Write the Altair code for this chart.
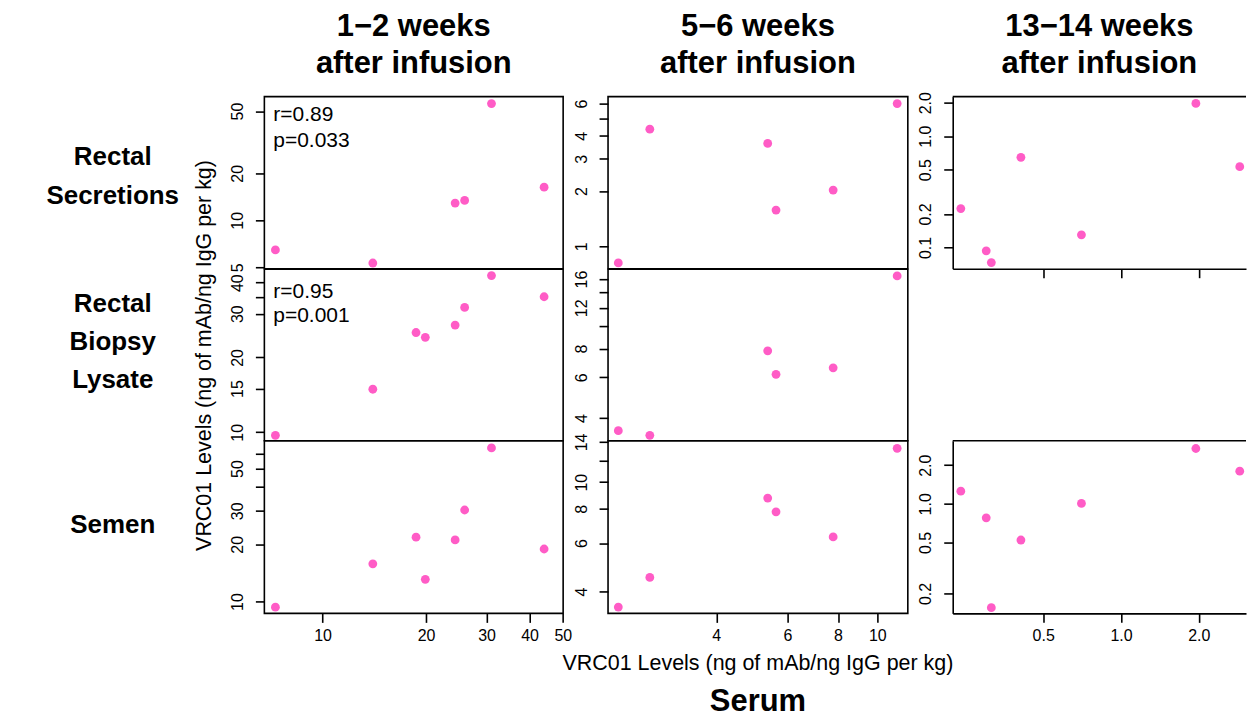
import altair as alt
import pandas as pd

FONT = "Liberation Sans"
PINK = "#FF5CC6"
BLACK = "#000000"

# ---------------- text ----------------
col_titles = ["1\u22122 weeks\nafter infusion", "5\u22126 weeks\nafter infusion", "13\u221214 weeks\nafter infusion"]
row_labels = ["Rectal\nSecretions", "Rectal\nBiopsy\nLysate", "Semen"]
axis_title_text = "VRC01 Levels (ng of mAb/ng IgG per kg)"
serum_label = "Serum"
stats_secretions = "r=0.89\np=0.033"
stats_biopsy = "r=0.95\np=0.001"

# ---------------- data (serum x, tissue y) ----------------
serum_1_2 = [7.29, 14.0, 18.7, 19.9, 24.3, 25.9, 31.0, 44.1]
serum_1_2_secretions = [7.29, 14.0, 24.3, 25.9, 31.0, 44.1]
secretions_1_2 = [6.46, 5.33, 12.9, 13.4, 55.9, 16.3]
biopsy_1_2 = [9.72, 14.9, 25.2, 24.1, 27.0, 31.8, 42.7, 35.1]
semen_1_2 = [9.35, 15.8, 21.8, 13.1, 21.1, 30.3, 64.2, 18.9]

serum_5_6 = [2.29, 2.74, 5.36, 5.62, 7.78, 11.2]
secretions_5_6 = [0.811, 4.35, 3.64, 1.576, 2.026, 6.0]
biopsy_5_6 = [3.53, 3.37, 7.82, 6.19, 6.60, 16.5]
semen_5_6 = [3.51, 4.50, 8.75, 7.80, 6.32, 13.28]

serum_13_14 = [0.240, 0.301, 0.315, 0.410, 0.703, 1.948, 2.88]
secretions_13_14 = [0.224, 0.0934, 0.0733, 0.647, 0.130, 1.974, 0.533]
semen_13_14 = [1.255, 0.778, 0.155, 0.522, 1.007, 2.70, 1.797]

# ---------------- axes: ticks & domains ----------------
x_ticks = [[10, 20, 30, 40, 50], [4, 6, 8, 10], [0.5, 1.0, 2.0]]
x_domains = [[6.77, 50.1], [2.16, 11.9], [0.2233, 3.045]]
x_formats = ["d", "d", ".1f"]

y_ticks = {
    (0, 0): [5, 10, 20, 50], (0, 1): [1, 2, 3, 4, 5, 6], (0, 2): [0.1, 0.2, 0.5, 1.0, 2.0],
    (1, 0): [10, 15, 20, 30, 35, 40], (1, 1): [4, 6, 8, 10, 12, 14, 16],
    (2, 0): [10, 20, 30, 40, 50, 60], (2, 1): [4, 6, 8, 10, 12, 14], (2, 2): [0.2, 0.5, 1.0, 2.0],
}
y_labeled = {
    (0, 0): [5, 10, 20, 50], (0, 1): [1, 2, 3, 4, 6], (0, 2): [0.1, 0.2, 0.5, 1.0, 2.0],
    (1, 0): [10, 15, 20, 30, 40], (1, 1): [4, 6, 8, 12, 16],
    (2, 0): [10, 20, 30, 50], (2, 1): [4, 6, 8, 10, 14], (2, 2): [0.2, 0.5, 1.0, 2.0],
}
y_domains = {
    (0, 0): [4.90, 61.9], (0, 1): [0.754, 6.55], (0, 2): [0.0645, 2.27],
    (1, 0): [9.24, 45.3], (1, 1): [3.19, 17.64],
    (2, 0): [8.67, 70.0], (2, 1): [3.33, 14.14], (2, 2): [0.1398, 3.10],
}

panel_data = {
    (0, 0): (serum_1_2_secretions, secretions_1_2),
    (1, 0): (serum_1_2, biopsy_1_2),
    (2, 0): (serum_1_2, semen_1_2),
    (0, 1): (serum_5_6, secretions_5_6),
    (1, 1): (serum_5_6, biopsy_5_6),
    (2, 1): (serum_5_6, semen_5_6),
    (0, 2): (serum_13_14, secretions_13_14),
    (2, 2): (serum_13_14, semen_13_14),
}

# ---------------- layout ----------------
COL_W = [299.5, 300.5, 294]
ROW_H = [172.5, 172, 173]
COL_SPACING = 44.5
TICK = 9
LW = 1.6


def y_axis(r, c):
    fmt = ".1f" if c == 2 else "d"
    return alt.Axis(
        values=y_ticks[(r, c)], format=fmt,
        labelExpr=f"indexof({y_labeled[(r, c)]}, datum.value) >= 0 ? datum.label : ''",
        labelAngle=270, labelAlign="center", labelBaseline="alphabetic",
        labelPadding=13, labelFontSize=16, labelFont=FONT, labelColor=BLACK,
        labelOverlap=False, labelFlush=False,
        tickSize=TICK, tickWidth=LW, tickColor=BLACK,
        domain=(c == 2), domainColor=BLACK, domainWidth=LW,
        grid=False, title=None,
    )


def x_axis(r, c):
    if c < 2 and r < 2:
        return None
    return alt.Axis(
        values=x_ticks[c], format=x_formats[c], labels=(r == 2),
        labelAngle=0, labelAlign="center", labelBaseline="top",
        labelPadding=5, labelFontSize=16, labelFont=FONT, labelColor=BLACK,
        labelOverlap=False, labelFlush=False,
        tickSize=TICK, tickWidth=LW, tickColor=BLACK,
        domain=(c == 2), domainColor=BLACK, domainWidth=LW,
        grid=False, title=None,
    )


def text_layer(text, x, y, size, weight="normal", angle=0, align="center",
               baseline="middle", line_height=None):
    kw = dict(font=FONT, fontSize=size, fontWeight=weight, align=align,
              baseline=baseline, color=BLACK, lineBreak="\n")
    if angle:
        kw["angle"] = angle
    if line_height:
        kw["lineHeight"] = line_height
    return alt.Chart(pd.DataFrame({"t": [text]})).mark_text(**kw).encode(
        text="t:N", x=alt.value(x), y=alt.value(y)
    )


def panel(r, c):
    w, h = COL_W[c], ROW_H[r]
    if (r, c) not in panel_data:
        blank = alt.Chart(pd.DataFrame({"v": [0]})).mark_point(opacity=0).encode(
            x=alt.value(0), y=alt.value(0)
        )
        return blank.properties(width=w, height=h,
                                view=alt.ViewBackground(stroke="transparent"))
    xs, ys = panel_data[(r, c)]
    df = pd.DataFrame({"serum": xs, "tissue": ys})
    ax = x_axis(r, c)
    xenc = alt.X("serum:Q", scale=alt.Scale(type="log", domain=x_domains[c], nice=False))
    xenc = xenc.axis(ax) if ax is not None else xenc.axis(None)
    pts = alt.Chart(df).mark_circle(size=78, color=PINK, opacity=1).encode(
        x=xenc,
        y=alt.Y("tissue:Q", scale=alt.Scale(type="log", domain=y_domains[(r, c)], nice=False),
                axis=y_axis(r, c)),
    )
    layers = [pts]
    if c == 2:
        layers.append(
            alt.Chart(pd.DataFrame({"a": [0]})).mark_rule(color=BLACK, strokeWidth=LW).encode(
                x=alt.value(0), x2=alt.value(w), y=alt.value(0)
            )
        )
    if r == 0:
        layers.append(text_layer(col_titles[c], w / 2, -61, 31, "bold",
                                 baseline="alphabetic", line_height=37))
    if c == 0:
        ly = {0: 61, 1: 34.5, 2: 84.5}[r]
        layers.append(text_layer(row_labels[r], -152, ly, 26, "bold", line_height=38.5))
    if (r, c) == (0, 0):
        layers.append(text_layer(stats_secretions, 9, 24, 21, align="left",
                                 baseline="alphabetic", line_height=26))
        layers.append(
            alt.Chart(pd.DataFrame({"a": [0]})).mark_square(size=1, color="white", opacity=1).encode(
                x=alt.value(-263.5), y=alt.value(-94.5)
            )
        )
    if (r, c) == (1, 0):
        layers.append(text_layer(stats_biopsy, 9, 29, 21, align="left",
                                 baseline="alphabetic", line_height=24))
        layers.append(text_layer(axis_title_text, -59, 86.5, 21.5, angle=270))
    if (r, c) == (2, 1):
        layers.append(text_layer(axis_title_text, w / 2, 223.5, 21.5))
        layers.append(text_layer(serum_label, w / 2, 261.5, 31, "bold"))
    ch = alt.layer(*layers).properties(width=w, height=h)
    if c == 2:
        ch = ch.properties(view=alt.ViewBackground(stroke="transparent"))
    return ch


cells = [panel(r, c) for r in range(3) for c in range(3)]

chart = alt.concat(
    *cells, columns=3,
    spacing={"row": 0, "column": COL_SPACING},
    bounds="flush", align="each", padding=0,
).configure(font=FONT).configure_view(stroke=BLACK, strokeWidth=LW)

chart.save("out.html", embed_options={"renderer": "svg", "actions": False})
